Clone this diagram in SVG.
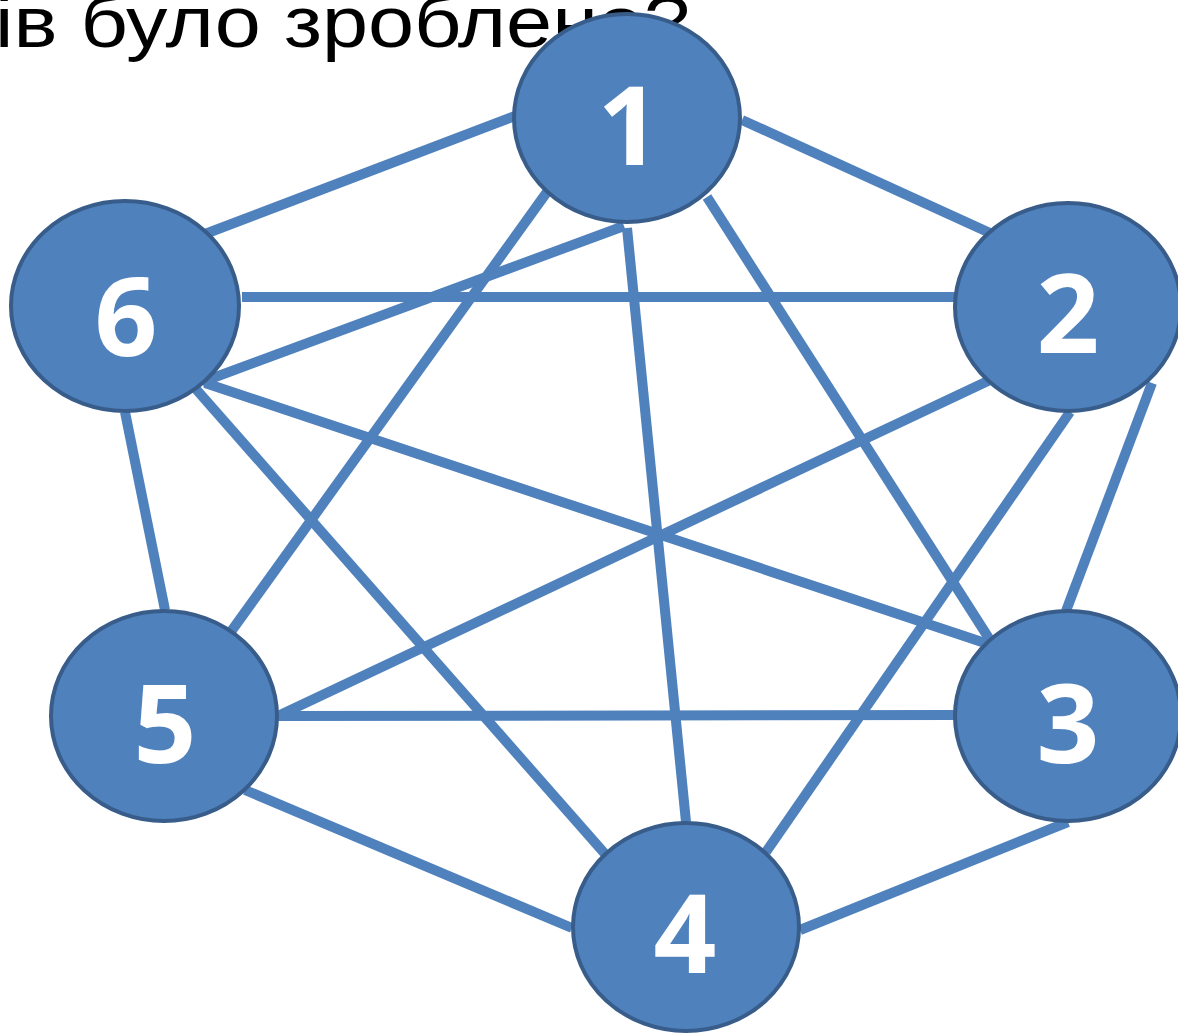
<svg xmlns="http://www.w3.org/2000/svg" width="1178" height="1035" viewBox="0 0 1178 1035">
<style>
.title{font-family:"Liberation Sans",Arial,sans-serif;font-size:72px;fill:#000}
.edge{stroke:#4F81BD;stroke-width:10;fill:none}
.node ellipse{fill:#4F81BD;stroke:#385D8A;stroke-width:4}
.node text{font-family:"Noto Sans","Open Sans",sans-serif;font-weight:bold;font-size:110px;fill:#fff;text-anchor:middle}
</style>
<rect width="1178" height="1035" fill="#fff"/>
<text class="title" x="-5" y="47" textLength="695" lengthAdjust="spacingAndGlyphs">ів було зроблено?</text>
<g id="connectors">
<line class="edge" x1="205" y1="234" x2="515" y2="116"/>
<line class="edge" x1="742" y1="120" x2="990" y2="233"/>
<line class="edge" x1="242" y1="297" x2="955" y2="297"/>
<line class="edge" x1="547" y1="192" x2="230" y2="633"/>
<line class="edge" x1="624" y1="226" x2="202" y2="382"/>
<line class="edge" x1="627" y1="228" x2="686" y2="822"/>
<line class="edge" x1="707" y1="197" x2="990" y2="640"/>
<line class="edge" x1="205" y1="383" x2="985" y2="643"/>
<line class="edge" x1="195" y1="388" x2="606" y2="855"/>
<line class="edge" x1="125" y1="412" x2="165" y2="610"/>
<line class="edge" x1="990" y1="380" x2="280" y2="715"/>
<line class="edge" x1="1070" y1="412" x2="766" y2="852"/>
<line class="edge" x1="1152" y1="383" x2="1066" y2="611"/>
<line class="edge" x1="278" y1="716" x2="955" y2="715"/>
<line class="edge" x1="245" y1="790" x2="572" y2="928"/>
<line class="edge" x1="1068" y1="822" x2="800" y2="930"/>
</g>
<g id="node1" class="node"><ellipse cx="627" cy="118" rx="113" ry="104"/><text x="629" y="165">1</text></g>
<g id="node2" class="node"><ellipse cx="1068" cy="307" rx="113" ry="104"/><text x="1068" y="353">2</text></g>
<g id="node3" class="node"><ellipse cx="1068" cy="716" rx="113" ry="105"/><text x="1068" y="763">3</text></g>
<g id="node4" class="node"><ellipse cx="686" cy="927" rx="113" ry="104"/><text x="685" y="973">4</text></g>
<g id="node5" class="node"><ellipse cx="164" cy="716" rx="113" ry="105"/><text x="165" y="763">5</text></g>
<g id="node6" class="node"><ellipse cx="125" cy="306" rx="114" ry="105"/><text x="126" y="356">6</text></g>
</svg>
